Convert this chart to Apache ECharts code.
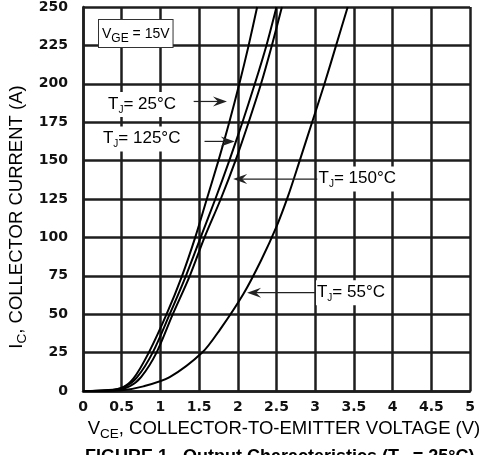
<!DOCTYPE html>
<html><head><meta charset="utf-8">
<script src="https://cdn.jsdelivr.net/npm/echarts@6/dist/echarts.min.js"></script>
<style>html,body{margin:0;padding:0;background:#fff}#c{width:490px;height:455px}</style>
</head><body><div id="c"></div>
<script>
// ---- data ----
const xTickLabels = ['0','0.5','1','1.5','2','2.5','3','3.5','4','4.5','5'];
const yTickLabels = ['0','25','50','75','100','125','150','175','200','225','250'];

const vceTj25  = [0, 0.3, 0.5, 0.65, 0.85, 1.08, 1.28, 1.45, 1.6, 1.75, 1.89, 2.02, 2.14, 2.25];
const icTj25   = [0, 0.5, 2,   8,    25,   50,   75,   100,  125, 150,  175,  200,  225,  250];

const vceTj125 = [0, 0.35, 0.55, 0.7, 0.9, 1.12, 1.33, 1.52, 1.71, 1.89, 2.06, 2.22, 2.37, 2.5];
const icTj125  = [0, 0.5,  3,    9,   25,  50,   75,   100,  125,  150,  175,  200,  225,  250];

const vceTj150 = [0, 0.4, 0.6, 0.75, 0.95, 1.16, 1.38, 1.57, 1.78, 1.97, 2.14, 2.3, 2.44, 2.57];
const icTj150  = [0, 0.5, 3,   9,    25,   50,   75,   100,  125,  150,  175,  200, 225,  250];

const vceTj55  = [0, 0.5, 0.78, 1.12, 1.54, 1.77, 2.07, 2.3, 2.5, 2.65, 2.8, 2.96, 3.12, 3.27, 3.42];
const icTj55   = [0, 0.5, 3,    9,    25,   40,   63,   85,  107, 127,  150, 175,  200,  225,  250];

const curveNames = ['TJ = 25°C', 'TJ = 125°C', 'TJ = 150°C', 'TJ = 55°C'];
const labelTemps = ['= 25°C', '= 125°C', '= 150°C', '= 55°C'];

function pairs(xs, ys) { return xs.map((x, i) => [x, ys[i]]); }

const chart = echarts.init(document.getElementById('c'), null, {renderer: 'canvas'});
const gridColor = '#1e1e1e';
const tickFont = {fontFamily: 'DejaVu Sans', fontWeight: 'bold', fontSize: 14, color: '#111'};

const mkSeries = (name, xs, ys) => ({
  name, type: 'line', data: pairs(xs, ys), showSymbol: false, symbol: 'none',
  smooth: 0.3, lineStyle: {color: '#000', width: 2}, z: 5, silent: true
});

chart.setOption({
  animation: false,
  backgroundColor: '#fff',
  grid: {left: 83, right: 20, top: 5, bottom: 64, containLabel: false},
  xAxis: {
    type: 'value', min: 0, max: 5, interval: 0.5,
    axisLine: {show: true, lineStyle: {color: gridColor, width: 2.5}},
    axisTick: {show: false},
    splitLine: {show: true, lineStyle: {color: gridColor, width: 2.5}},
    axisLabel: Object.assign({margin: 9, formatter: v => xTickLabels[Math.round(v / 0.5)]}, tickFont)
  },
  yAxis: {
    type: 'value', min: 0, max: 250, interval: 25,
    axisLine: {show: true, lineStyle: {color: gridColor, width: 2.5}},
    axisTick: {show: false},
    splitLine: {show: true, lineStyle: {color: gridColor, width: 2.5}},
    axisLabel: Object.assign({margin: 15, formatter: v => yTickLabels[Math.round(v / 25)]}, tickFont)
  },
  series: [
    mkSeries(curveNames[0], vceTj25, icTj25),
    mkSeries(curveNames[1], vceTj125, icTj125),
    mkSeries(curveNames[2], vceTj150, icTj150),
    mkSeries(curveNames[3], vceTj55, icTj55)
  ]
});

// ---- annotations (positions in data coordinates) ----
const ann = [
  {temp: labelTemps[0], text: [0.31, 186.5], tail: [1.43, 188.5], tip: [1.86, 188.5]},
  {temp: labelTemps[1], text: [0.245, 164], tail: [1.57, 162.5], tip: [1.96, 162.5]},
  {temp: labelTemps[2], text: [3.03, 138], tail: [3.03, 138], tip: [1.94, 138]},
  {temp: labelTemps[3], text: [3.01, 64], tail: [3.01, 64], tip: [2.12, 64]}
];
const px = p => chart.convertToPixel({gridIndex: 0}, p);
const graphics = [];
const font = 'Liberation Sans, Arial, sans-serif';
ann.forEach(a => {
  const t = px(a.text), s = px(a.tail), e = px(a.tip);
  const dir = Math.sign(e[0] - s[0]);
  graphics.push({type: 'line', shape: {x1: s[0], y1: s[1], x2: e[0] - dir * 8, y2: e[1]},
    style: {stroke: '#222', lineWidth: 1.2}, z: 20});
  graphics.push({type: 'polygon', shape: {points: [
    [e[0], e[1]], [e[0] - dir * 14, e[1] - 5], [e[0] - dir * 9, e[1]], [e[0] - dir * 14, e[1] + 5]]},
    style: {fill: '#222'}, z: 21});
  graphics.push({type: 'text', x: t[0], y: t[1], z: 22, style: {
    text: '{n|T}{s|J}{n|' + a.temp + '}',
    align: 'left', verticalAlign: 'middle', backgroundColor: '#fff', padding: [1, 2, 2, 1],
    rich: {
      n: {fontFamily: font, fontSize: 17, color: '#222', lineHeight: 22, verticalAlign: 'middle'},
      s: {fontFamily: font, fontSize: 10, color: '#222', lineHeight: 11, verticalAlign: 'bottom'}
    }}});
});

// VGE box
graphics.push({type: 'text', left: 98, top: 19, z: 22, style: {
  text: '{n|V}{s|GE}{n| = 15V}', backgroundColor: '#fff', borderColor: '#333', borderWidth: 1,
  padding: [3, 3, 2, 3],
  rich: {
    n: {fontFamily: font, fontSize: 14, color: '#222', lineHeight: 22, verticalAlign: 'middle'},
    s: {fontFamily: font, fontSize: 12, color: '#222', lineHeight: 13, verticalAlign: 'bottom'}
  }}});

// Axis titles
const titleRich = {
  n: {fontFamily: font, fontSize: 18.5, color: '#222', lineHeight: 24, verticalAlign: 'middle'},
  s: {fontFamily: font, fontSize: 13.5, color: '#222', lineHeight: 15, verticalAlign: 'bottom'}
};
graphics.push({type: 'text', x: 17, y: 217, rotation: Math.PI / 2, z: 22, style: {
  text: '{n|I}{s|C}{n|, COLLECTOR CURRENT (A)}', align: 'center', verticalAlign: 'middle',
  rich: titleRich}});
graphics.push({type: 'text', x: 284, y: 429, z: 22, style: {
  text: '{n|V}{s|CE}{n|, COLLECTOR-TO-EMITTER VOLTAGE (V)}', align: 'center', verticalAlign: 'middle',
  rich: titleRich}});
graphics.push({type: 'text', left: 85, top: 448, z: 22, style: {
  text: '{n|FIGURE 1.  Output Characteristics (T}{s|C}{n| = 25°C)}',
  rich: {
    n: {fontFamily: font, fontWeight: 'bold', fontSize: 18, color: '#111', lineHeight: 22, verticalAlign: 'middle'},
    s: {fontFamily: font, fontWeight: 'bold', fontSize: 12, color: '#111', lineHeight: 14, verticalAlign: 'bottom'}
  }}});

chart.setOption({graphic: graphics});
</script>
</body></html>
